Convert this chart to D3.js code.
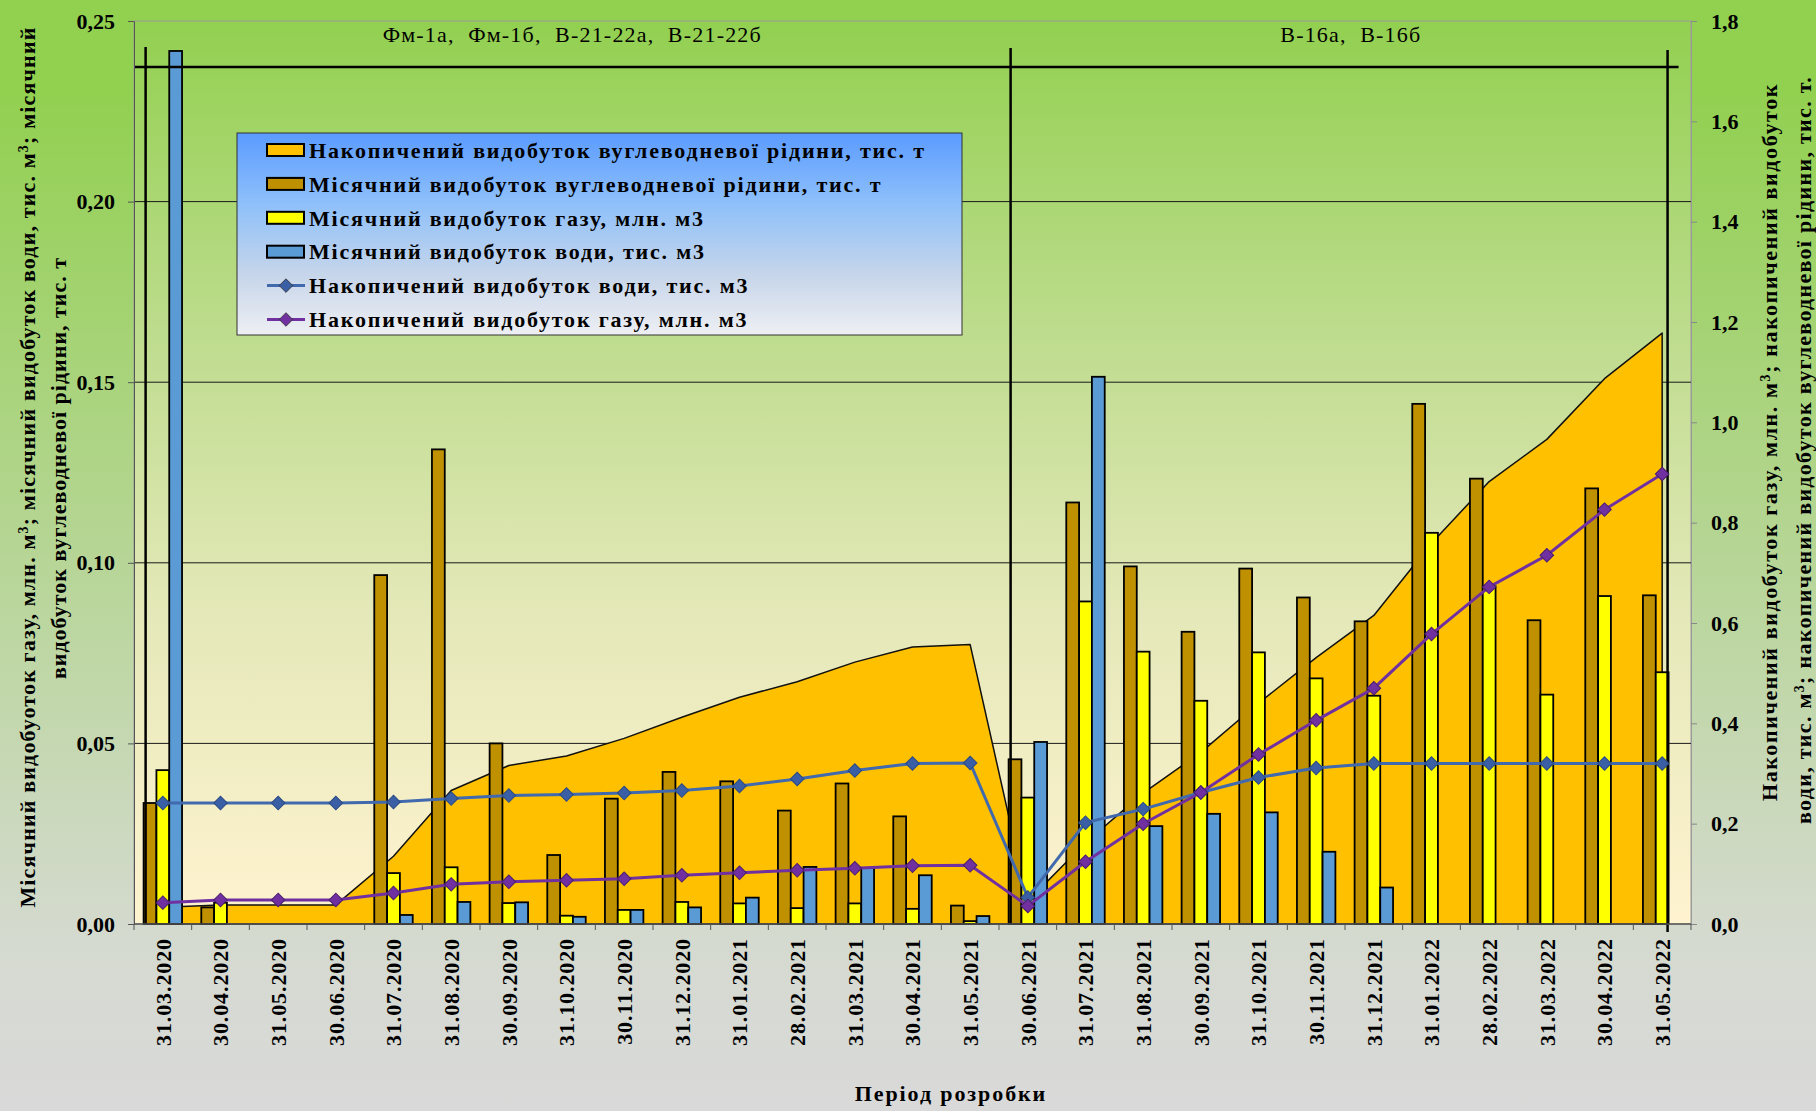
<!DOCTYPE html>
<html lang="uk">
<head>
<meta charset="UTF-8">
<title>Видобуток по періодах розробки</title>
<script src="https://d3js.org/d3.v7.min.js"></script>
<style>
  body { margin: 0; background: #d9d9d9; }
  svg { display: block; font-family: "Liberation Serif", "Times New Roman", serif; }
  .tick-label { font-size: 22px; font-weight: bold; fill: #000; }
  .x-label { font-size: 22px; font-weight: bold; fill: #000; letter-spacing: 0.9px; }
  .title { font-size: 22px; font-weight: bold; fill: #000; }
  .group-label { font-size: 22px; fill: #000; letter-spacing: 1.2px; }
  .legend-label { font-size: 22px; font-weight: bold; fill: #000; letter-spacing: 1.8px; }
</style>
</head>
<body>
<svg width="1816" height="1111"></svg>
<script>
// ---- data ----
const dates = [
  "31.03.2020", "30.04.2020", "31.05.2020", "30.06.2020", "31.07.2020", "31.08.2020",
  "30.09.2020", "31.10.2020", "30.11.2020", "31.12.2020", "31.01.2021", "28.02.2021",
  "31.03.2021", "30.04.2021", "31.05.2021", "30.06.2021", "31.07.2021", "31.08.2021",
  "30.09.2021", "31.10.2021", "30.11.2021", "31.12.2021", "31.01.2022", "28.02.2022",
  "31.03.2022", "30.04.2022", "31.05.2022"
];

// monthly (left axis)
const liquidMonthly = [0.0335, 0.0046, 0, 0, 0.0966, 0.1314, 0.0500, 0.0191, 0.0347, 0.0421, 0.0395, 0.0314,
  0.0389, 0.0298, 0.0051, 0.0456, 0.1167, 0.0990, 0.0809, 0.0984, 0.0904, 0.0838, 0.1440, 0.1233,
  0.0841, 0.1206, 0.0910];
const gasMonthly = [0.0426, 0.0059, 0, 0, 0.0141, 0.0157, 0.0058, 0.0023, 0.0039, 0.0061, 0.0057, 0.0044,
  0.0057, 0.0042, 0.0008, 0.0350, 0.0893, 0.0754, 0.0618, 0.0752, 0.0680, 0.0632, 0.1083, 0.0935,
  0.0635, 0.0908, 0.0697];
const waterMonthly = [0.2417, 0, 0, 0, 0.0025, 0.0061, 0.0060, 0.0020, 0.0039, 0.0046, 0.0073, 0.0158,
  0.0155, 0.0135, 0.0022, 0.0504, 0.1515, 0.0271, 0.0305, 0.0309, 0.0200, 0.0101, 0, 0,
  0, 0, 0];

// cumulative (right axis)
const liquidCum = [0.0335, 0.038, 0.038, 0.038, 0.135, 0.266, 0.316, 0.335, 0.370, 0.412, 0.452, 0.483,
  0.522, 0.552, 0.557, 0.0456, 0.162, 0.261, 0.342, 0.440, 0.531, 0.615, 0.759, 0.882,
  0.966, 1.087, 1.178];
const waterCum = [0.241, 0.241, 0.241, 0.241, 0.243, 0.250, 0.256, 0.258, 0.261, 0.266, 0.275, 0.289,
  0.306, 0.320, 0.321, 0.053, 0.202, 0.229, 0.262, 0.292, 0.311, 0.320, 0.320, 0.320,
  0.320, 0.320, 0.320];
const gasCum = [0.0426, 0.048, 0.048, 0.048, 0.062, 0.079, 0.084, 0.087, 0.090, 0.097, 0.102, 0.107,
  0.111, 0.116, 0.117, 0.036, 0.124, 0.200, 0.262, 0.338, 0.406, 0.470, 0.578, 0.672,
  0.735, 0.826, 0.897];

const leftTicks = [0, 0.05, 0.10, 0.15, 0.20, 0.25];
const rightTicks = [0, 0.2, 0.4, 0.6, 0.8, 1.0, 1.2, 1.4, 1.6, 1.8];

const groups = [
  {label: "Фм-1а,  Фм-1б,  В-21-22а,  В-21-22б", from: 0},
  {label: "В-16а,  В-16б", from: 15}
];

const legendItems = [
  {type: "box", color: "#FFC000", label: "Накопичений видобуток вуглеводневої рідини, тис. т"},
  {type: "box", color: "#BF9000", label: "Місячний видобуток вуглеводневої рідини, тис. т"},
  {type: "box", color: "#FFFF00", label: "Місячний видобуток газу, млн. м3"},
  {type: "box", color: "#5B9BD5", label: "Місячний видобуток води, тис. м3"},
  {type: "line", color: "#4169AE", marker: "#3A5FA5", label: "Накопичений видобуток води, тис. м3"},
  {type: "line", color: "#7030A0", marker: "#7030A0", label: "Накопичений видобуток газу, млн. м3"}
];

// ---- layout ----
const W = 1816, H = 1111;
const margin = {top: 21, right: 125, bottom: 187, left: 134};
const x0 = margin.left, x1 = W - margin.right;
const yTop = margin.top, yBot = H - margin.bottom;

const svg = d3.select("svg");
const defs = svg.append("defs");

function vGrad(id, stops) {
  const g = defs.append("linearGradient").attr("id", id)
    .attr("x1", "0").attr("x2", "0").attr("y1", "0").attr("y2", "1");
  stops.forEach(([o, c]) => g.append("stop").attr("offset", o).attr("stop-color", c));
}
vGrad("bgGrad", [[0, "#92D050"], [0.08, "#92D050"], [0.85, "#D5DAD0"], [1, "#D9D9D9"]]);
vGrad("plotGrad", [[0, "#92D050"], [0.35, "#BEDC8E"], [0.65, "#E4E8B8"], [1, "#FFF3D0"]]);
vGrad("legendGrad", [[0, "#5B9BFF"], [0.35, "#8EC0FA"], [0.7, "#C6D5EA"], [1, "#EEEFF3"]]);

svg.append("rect").attr("width", W).attr("height", H).attr("fill", "url(#bgGrad)");

const x = d3.scaleBand().domain(dates).range([x0, x1]).padding(0);
const bw = x.bandwidth();
const xBar = d3.scaleBand().domain(["liq", "gas", "water"]).range([0, bw])
  .paddingInner(0).paddingOuter(0.75);
const yL = d3.scaleLinear().domain([0, 0.25]).range([yBot, yTop]);
const yR = d3.scaleLinear().domain([0, 1.8]).range([yBot, yTop]);
const cx = d => x(d) + bw / 2;

// plot area
svg.append("rect")
  .attr("x", x0).attr("y", yTop).attr("width", x1 - x0).attr("height", yBot - yTop)
  .attr("fill", "url(#plotGrad)").attr("stroke", "#9a9a9a").attr("stroke-width", 1);

// gridlines
svg.append("g").selectAll("line")
  .data(leftTicks.filter(t => t > 0 && t < 0.25))
  .join("line")
  .attr("x1", x0).attr("x2", x1)
  .attr("y1", d => yL(d)).attr("y2", d => yL(d))
  .attr("stroke", "#1a1a1a").attr("stroke-width", 1);

// cumulative liquid area
const liqRows = dates.map((d, i) => ({date: d, v: liquidCum[i]}));
svg.append("path")
  .datum(liqRows)
  .attr("d", d3.area().x(d => cx(d.date)).y0(yR(0)).y1(d => yR(d.v)))
  .attr("fill", "#FFC000").attr("stroke", "#111").attr("stroke-width", 1.5)
  .attr("stroke-linejoin", "round");

// monthly bars
const barSeries = [
  {key: "liq", values: liquidMonthly, color: "#BF9000"},
  {key: "gas", values: gasMonthly, color: "#FFFF00"},
  {key: "water", values: waterMonthly, color: "#5B9BD5"}
];
barSeries.forEach(s => {
  svg.append("g").selectAll("rect")
    .data(dates.map((d, i) => ({date: d, v: s.values[i]})).filter(d => d.v > 0))
    .join("rect")
    .attr("x", d => x(d.date) + xBar(s.key))
    .attr("width", xBar.bandwidth())
    .attr("y", d => yL(d.v))
    .attr("height", d => yL(0) - yL(d.v))
    .attr("fill", s.color).attr("stroke", "#000").attr("stroke-width", 1.8);
});

// separators and well groups
const sepX = [
  x(dates[0]) + xBar("liq") + 2,
  x(dates[15]) + xBar("liq") + 2,
  x(dates[26]) + xBar("water") - 1
];
const sepTop = [47, 48, 50];
const sepBottom = [yBot, yBot, yBot + 8];
const bracketY = 67;
const sep = svg.append("g").attr("stroke", "#000").attr("stroke-width", 2.5);
sepX.forEach((sx, i) => {
  sep.append("line").attr("x1", sx).attr("x2", sx).attr("y1", sepTop[i]).attr("y2", sepBottom[i]);
});
sep.append("line").attr("x1", x0).attr("x2", sepX[2] + 11).attr("y1", bracketY).attr("y2", bracketY);

const groupBounds = [[x0, sepX[1]], [sepX[1], x1]];
groups.forEach((g, i) => {
  svg.append("text").attr("class", "group-label")
    .attr("x", (groupBounds[i][0] + groupBounds[i][1]) / 2).attr("y", 42)
    .attr("text-anchor", "middle").style("white-space", "pre")
    .text(g.label);
});

// cumulative lines
const lineSeries = [
  {values: waterCum, color: "#4169AE", marker: "#3A5FA5", edge: "#2B4A85"},
  {values: gasCum, color: "#7030A0", marker: "#7030A0", edge: "#4A1E6E"}
];
const diamond = d3.symbol().type(d3.symbolSquare).size(92);
lineSeries.forEach(s => {
  const rows = dates.map((d, i) => ({date: d, v: s.values[i]}));
  svg.append("path").datum(rows)
    .attr("d", d3.line().x(d => cx(d.date)).y(d => yR(d.v)))
    .attr("fill", "none").attr("stroke", s.color).attr("stroke-width", 3);
  svg.append("g").selectAll("path").data(rows).join("path")
    .attr("d", diamond)
    .attr("transform", d => `translate(${cx(d.date)},${yR(d.v)}) rotate(45)`)
    .attr("fill", s.marker).attr("stroke", s.edge).attr("stroke-width", 1);
});

// axes
const comma = (d, n) => d.toFixed(n).replace(".", ",");
const gLeft = svg.append("g").attr("transform", `translate(${x0},0)`)
  .call(d3.axisLeft(yL).tickValues(leftTicks).tickFormat(d => comma(d, 2))
    .tickSize(6).tickSizeOuter(0).tickPadding(13));
const gRight = svg.append("g").attr("transform", `translate(${x1},0)`)
  .call(d3.axisRight(yR).tickValues(rightTicks).tickFormat(d => comma(d, 1))
    .tickSize(6).tickSizeOuter(0).tickPadding(14));
[gLeft, gRight].forEach(g => {
  g.attr("font-family", null).attr("font-size", null);
  g.selectAll("text").attr("class", "tick-label");
  g.select(".domain").attr("stroke", "#555");
  g.selectAll(".tick line").attr("stroke", "#555");
});
gRight.select(".domain").attr("stroke", "#9a9a9a");
gRight.selectAll(".tick line").attr("stroke", "#888");

const gBottom = svg.append("g");
gBottom.append("line").attr("x1", x0).attr("x2", x1).attr("y1", yBot).attr("y2", yBot)
  .attr("stroke", "#555").attr("stroke-width", 1.5);
gBottom.selectAll("line.tk")
  .data(dates.map(d => x(d)).concat([x1]))
  .join("line").attr("class", "tk")
  .attr("x1", d => d).attr("x2", d => d).attr("y1", yBot).attr("y2", yBot + 6)
  .attr("stroke", "#555");
gBottom.selectAll("text").data(dates).join("text")
  .attr("class", "x-label")
  .attr("transform", d => `translate(${cx(d)},${yBot + 14}) rotate(-90)`)
  .attr("text-anchor", "end").attr("dy", "0.35em")
  .text(d => d);

// axis titles
function title(parts, tx, ty, spacing) {
  const t = svg.append("text").attr("class", "title")
    .attr("transform", `translate(${tx},${ty}) rotate(-90)`)
    .attr("text-anchor", "middle").attr("dy", "0.35em")
    .style("letter-spacing", spacing + "px");
  parts.forEach(p => {
    if (typeof p === "string") t.append("tspan").text(p);
    else t.append("tspan").attr("baseline-shift", "super").attr("font-size", "14px").text(p.sup);
  });
}
title(["Місячний видобуоток газу, млн. м", {sup: "3"}, "; місячний видобуток води, тис. м", {sup: "3"}, "; місячний"], 27, 467, 1.15);
title(["видобуток вуглеводневої рідини, тис. т"], 58, 468, 1.0);
title(["Накопичений видобуток газу, млн. м", {sup: "3"}, "; накопичений видобуток"], 1769, 442, 1.6);
title(["води, тис. м", {sup: "3"}, "; накопичений видобуток вуглеводневої рідини, тис. т."], 1803, 450, 1.3);

svg.append("text").attr("class", "title")
  .attr("x", 951).attr("y", 1101).attr("text-anchor", "middle")
  .style("letter-spacing", "1.9px")
  .text("Період розробки");

// legend
const lg = {x: 237, y: 133, w: 725, h: 202, row: 33.9};
const legend = svg.append("g");
legend.append("rect")
  .attr("x", lg.x).attr("y", lg.y).attr("width", lg.w).attr("height", lg.h)
  .attr("fill", "url(#legendGrad)").attr("stroke", "#333").attr("stroke-width", 1);
legendItems.forEach((it, i) => {
  const ry = lg.y + 17 + i * lg.row;
  const g = legend.append("g");
  if (it.type === "box") {
    g.append("rect").attr("x", lg.x + 30).attr("y", ry - 6).attr("width", 37).attr("height", 12)
      .attr("fill", it.color).attr("stroke", "#000").attr("stroke-width", 2);
  } else {
    g.append("line").attr("x1", lg.x + 30).attr("x2", lg.x + 68).attr("y1", ry).attr("y2", ry)
      .attr("stroke", it.color).attr("stroke-width", 3);
    g.append("path").attr("d", diamond)
      .attr("transform", `translate(${lg.x + 49},${ry}) rotate(45)`)
      .attr("fill", it.marker).attr("stroke", "#333").attr("stroke-width", 0.8);
  }
  g.append("text").attr("class", "legend-label")
    .attr("x", lg.x + 72).attr("y", ry).attr("dy", "0.35em")
    .text(it.label);
});
</script>
</body>
</html>
